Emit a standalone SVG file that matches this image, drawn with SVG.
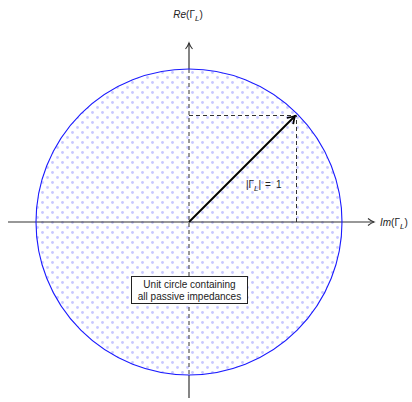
<svg xmlns="http://www.w3.org/2000/svg" width="412" height="402" viewBox="0 0 412 402">
<style>
.t{font-family:"Liberation Sans",Arial,sans-serif;font-size:10px;fill:#222}
.ax{stroke:#333;stroke-width:1.2;fill:none}
.dash{stroke:#333;stroke-width:1;stroke-dasharray:4,3;fill:none}
</style>
<defs>
<pattern id="dots" width="10" height="10" patternUnits="userSpaceOnUse">
<circle cx="2.5" cy="2.5" r="1.4" fill="#c8c8ff"/>
<circle cx="7.5" cy="7.5" r="1.4" fill="#c8c8ff"/>
</pattern>
<marker id="ah" markerWidth="10" markerHeight="10" refX="7" refY="5" orient="auto" markerUnits="userSpaceOnUse">
<path d="M1,1.5 Q4,4 7,5 Q4,6 1,8.5" fill="none" stroke="#333" stroke-width="1.1"/>
</marker>
<marker id="vh" markerWidth="12" markerHeight="12" refX="8" refY="6" orient="auto" markerUnits="userSpaceOnUse">
<path d="M1,1.5 Q5,4.5 8,6 Q5,7.5 1,10.5" fill="none" stroke="#000" stroke-width="1.8"/>
</marker>
</defs>
<g id="circle">
<circle cx="189" cy="222" r="153" fill="url(#dots)" stroke="none"/>
</g>
<g id="connectors">
<line class="ax" x1="8" y1="222" x2="374" y2="222" marker-end="url(#ah)"/>
<line class="ax" x1="189" y1="398" x2="189" y2="375"/>
<line class="ax" x1="189" y1="69" x2="189" y2="43" marker-end="url(#ah)"/>
<line class="dash" x1="189" y1="69" x2="189" y2="375"/>
<path class="dash" d="M189,115.5 H296.5 V222"/>
<line x1="189" y1="222" x2="295" y2="116" stroke="#000" stroke-width="2" marker-end="url(#vh)"/>
</g>
<g id="circle-outline">
<circle cx="189" cy="222" r="153" fill="none" stroke="#1a1aff" stroke-width="1.1"/>
</g>
<g id="label-re">
<text class="t" x="188" y="18" text-anchor="middle"><tspan font-style="italic">Re</tspan>(Γ<tspan font-style="italic" font-size="8" dy="3">L</tspan><tspan dy="-3">)</tspan></text>
</g>
<g id="label-im">
<text class="t" x="380" y="226"><tspan font-style="italic">Im</tspan>(Γ<tspan font-style="italic" font-size="8" dy="3">L</tspan><tspan dy="-3">)</tspan></text>
</g>
<g id="label-mag">
<text class="t" x="246" y="188" fill="#444">|Γ<tspan font-style="italic" font-size="8" dy="3">L</tspan><tspan dy="-3">|</tspan><tspan x="265">=</tspan><tspan x="276">1</tspan></text>
</g>
<g id="note">
<rect x="131.5" y="276.5" width="116" height="27" fill="#fff" stroke="#222" stroke-width="1"/>
<text class="t" x="189.5" y="288" text-anchor="middle">Unit circle containing</text>
<text class="t" x="189.5" y="300" text-anchor="middle">all passive impedances</text>
</g>
</svg>
